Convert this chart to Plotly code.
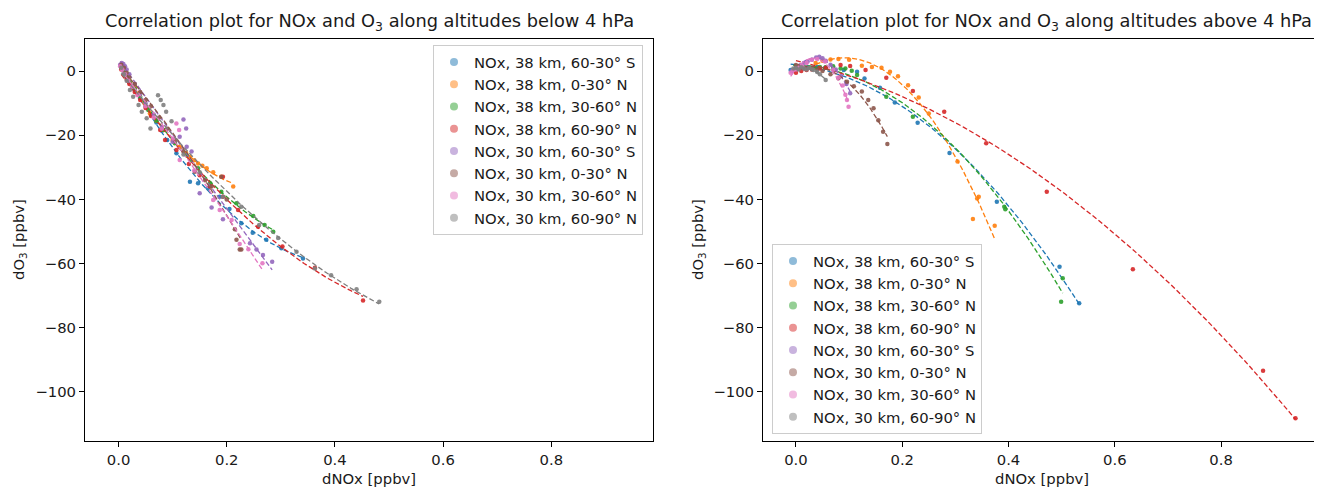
import numpy as np
import plotly.graph_objects as go

# ---------------- data ----------------
labels = ["NOx, 38 km, 60-30° S", "NOx, 38 km, 0-30° N", "NOx, 38 km, 30-60° N",
          "NOx, 38 km, 60-90° N", "NOx, 30 km, 60-30° S", "NOx, 30 km, 0-30° N",
          "NOx, 30 km, 30-60° N", "NOx, 30 km, 60-90° N"]
colors = ["#1f77b4", "#ff7f0e", "#2ca02c", "#d62728",
          "#9467bd", "#8c564b", "#e377c2", "#7f7f7f"]

# below 4 hPa (left panel)
lo_x_s1 = [0.005, 0.01, 0.015, 0.02, 0.03, 0.04, 0.05, 0.06, 0.07, 0.08, 0.09, 0.107, 0.132, 0.147, 0.165, 0.187, 0.205, 0.227, 0.248, 0.273, 0.301, 0.341]
lo_y_s1 = [1.0, -0.5, -2.0, -3.5, -6.0, -8.5, -11.0, -13.5, -16.0, -18.5, -21.5, -25.6, -34.5, -35.0, -36.5, -39.2, -43.0, -47.4, -50.4, -52.6, -55.2, -58.4]
lo_x_s2 = [0.005, 0.01, 0.015, 0.02, 0.03, 0.037, 0.048, 0.058, 0.07, 0.083, 0.1, 0.113, 0.125, 0.132, 0.14, 0.147, 0.155, 0.163, 0.175, 0.190, 0.212]
lo_y_s2 = [1.5, 0.0, -1.5, -3.0, -5.0, -6.9, -10.0, -13.2, -15.5, -18.4, -21.5, -23.6, -25.5, -26.7, -27.8, -28.8, -29.5, -30.3, -31.5, -32.9, -36.0]
lo_x_s3 = [0.005, 0.01, 0.015, 0.02, 0.03, 0.04, 0.055, 0.07, 0.083, 0.104, 0.126, 0.147, 0.169, 0.190, 0.218, 0.249, 0.270, 0.286]
lo_y_s3 = [1.2, -0.3, -1.8, -3.2, -5.5, -8.0, -12.1, -15.5, -18.4, -22.5, -26.2, -30.3, -35.0, -37.6, -41.2, -45.2, -48.0, -50.1]
lo_x_s4 = [0.005, 0.01, 0.015, 0.02, 0.03, 0.04, 0.05, 0.06, 0.077, 0.086, 0.107, 0.13, 0.15, 0.169, 0.193, 0.193, 0.221, 0.258, 0.303, 0.363, 0.452]
lo_y_s4 = [0.5, -1.0, -2.5, -4.0, -6.5, -9.0, -11.5, -14.0, -18.4, -21.5, -24.6, -29.0, -32.5, -36.0, -32.9, -39.2, -43.3, -48.5, -54.7, -61.3, -71.5]
lo_x_s5 = [0.003, 0.006, 0.009, 0.012, 0.015, 0.02, 0.03, 0.04, 0.05, 0.065, 0.08, 0.1, 0.113, 0.120, 0.125, 0.126, 0.135, 0.150, 0.172, 0.193, 0.243, 0.255, 0.267, 0.284]
lo_y_s5 = [2.0, 2.5, 2.2, 1.5, 0.5, -1.0, -4.0, -7.0, -10.0, -13.5, -17.5, -22.0, -20.5, -15.1, -17.9, -23.6, -25.1, -38.1, -42.5, -46.2, -53.7, -55.6, -57.3, -59.4]
lo_x_s6 = [0.005, 0.01, 0.015, 0.02, 0.03, 0.04, 0.05, 0.06, 0.075, 0.09, 0.105, 0.12, 0.141, 0.16, 0.172, 0.19, 0.2, 0.215, 0.218, 0.224, 0.227]
lo_y_s6 = [2.0, 1.0, -0.5, -2.0, -4.0, -6.5, -9.0, -11.0, -14.5, -18.0, -21.5, -25.0, -31.4, -34.0, -36.0, -32.9, -40.0, -49.3, -52.6, -55.6, -55.6]
lo_x_s7 = [0.003, 0.007, 0.012, 0.018, 0.025, 0.035, 0.05, 0.065, 0.08, 0.101, 0.107, 0.112, 0.113, 0.14, 0.175, 0.187, 0.209, 0.224, 0.24, 0.266]
lo_y_s7 = [1.5, 0.5, -1.0, -3.0, -5.0, -7.5, -11.0, -14.5, -18.0, -21.0, -16.3, -18.4, -27.7, -31.0, -40.2, -43.3, -46.4, -53.9, -55.5, -59.9]
lo_x_s8 = [0.005, 0.01, 0.015, 0.021, 0.027, 0.037, 0.043, 0.052, 0.059, 0.073, 0.078, 0.083, 0.088, 0.098, 0.12, 0.15, 0.193, 0.227, 0.26, 0.295, 0.329, 0.363, 0.393, 0.44, 0.482]
lo_y_s8 = [1.0, -1.0, -3.0, -5.9, -8.0, -10.6, -12.7, -14.7, -17.9, -7.5, -9.0, -10.6, -12.7, -15.6, -26.0, -31.5, -39.2, -42.3, -48.0, -52.0, -56.3, -61.5, -63.6, -68.0, -71.9]

# above 4 hPa (right panel)
hi_x_s1 = [-0.01, 0.0, 0.008, 0.015, 0.022, 0.03, 0.04, 0.055, 0.07, 0.09, 0.115, 0.129, 0.158, 0.186, 0.229, 0.289, 0.378, 0.496, 0.533]
hi_y_s1 = [0.3, 0.5, 1.0, 0.8, 1.2, 1.0, 1.3, 1.0, 0.8, 0.3, -0.2, -2.3, -5.2, -9.8, -16.1, -25.5, -40.7, -61.0, -72.4]
hi_x_s2 = [0.037, 0.05, 0.065, 0.08, 0.1, 0.124, 0.143, 0.161, 0.177, 0.192, 0.211, 0.231, 0.250, 0.304, 0.333, 0.341, 0.344, 0.374]
hi_y_s2 = [2.5, 3.2, 3.6, 3.8, 3.5, 1.7, 1.3, 1.0, -0.2, -1.6, -4.4, -8.2, -13.2, -28.2, -46.1, -39.7, -39.2, -48.2]
hi_x_s3 = [-0.005, 0.005, 0.015, 0.025, 0.035, 0.045, 0.056, 0.07, 0.084, 0.093, 0.105, 0.115, 0.170, 0.220, 0.392, 0.394, 0.499, 0.502]
hi_y_s3 = [0.3, 0.8, 1.0, 1.2, 1.0, 1.3, 1.2, 1.5, 0.8, 0.8, 0.1, -1.2, -8.0, -14.2, -42.3, -43.1, -71.9, -64.6]
hi_x_s4 = [0.0, 0.01, 0.02, 0.03, 0.045, 0.056, 0.084, 0.102, 0.131, 0.170, 0.220, 0.279, 0.358, 0.472, 0.634, 0.879, 0.940]
hi_y_s4 = [-0.5, 0.0, 0.3, 0.5, 0.8, 1.0, 1.9, 1.6, 0.3, -2.1, -6.2, -12.7, -22.5, -37.6, -61.8, -93.4, -108.2]
hi_x_s5 = [-0.008, 0.0, 0.008, 0.015, 0.022, 0.03, 0.038, 0.044, 0.05, 0.056, 0.065, 0.075, 0.085, 0.095, 0.102]
hi_y_s5 = [0.0, 1.0, 1.8, 2.5, 3.0, 3.5, 4.2, 4.5, 4.0, 3.2, 2.0, 0.5, -1.5, -4.0, -6.9]
hi_x_s6 = [0.0, 0.005, 0.012, 0.02, 0.03, 0.04, 0.05, 0.065, 0.08, 0.096, 0.109, 0.124, 0.136, 0.146, 0.155, 0.164, 0.172]
hi_y_s6 = [1.9, 1.5, 1.2, 1.0, 0.8, 0.5, 0.0, -1.0, -2.2, -3.3, -4.7, -6.4, -9.0, -11.6, -15.3, -18.9, -22.7]
hi_x_s7 = [-0.01, -0.005, 0.0, 0.005, 0.012, 0.02, 0.03, 0.04, 0.055, 0.07, 0.08, 0.088, 0.093, 0.096, 0.099]
hi_y_s7 = [-0.5, 0.3, 0.5, 1.0, 1.5, 2.5, 3.5, 3.8, 3.0, 0.5, -2.0, -4.5, -7.4, -9.0, -11.1]
hi_x_s8 = [-0.005, 0.0, 0.005, 0.01, 0.015, 0.02, 0.025, 0.03, 0.033, 0.04, 0.045, 0.056]
hi_y_s8 = [0.8, 1.0, 0.5, 1.2, 0.8, 0.5, 1.0, 0.6, 0.3, -0.3, -1.0, -2.8]

lo_x = [lo_x_s1, lo_x_s2, lo_x_s3, lo_x_s4, lo_x_s5, lo_x_s6, lo_x_s7, lo_x_s8]
lo_y = [lo_y_s1, lo_y_s2, lo_y_s3, lo_y_s4, lo_y_s5, lo_y_s6, lo_y_s7, lo_y_s8]
hi_x = [hi_x_s1, hi_x_s2, hi_x_s3, hi_x_s4, hi_x_s5, hi_x_s6, hi_x_s7, hi_x_s8]
hi_y = [hi_y_s1, hi_y_s2, hi_y_s3, hi_y_s4, hi_y_s5, hi_y_s6, hi_y_s7, hi_y_s8]

x_ticks = [0.0, 0.2, 0.4, 0.6, 0.8]
y_ticks = [0, -20, -40, -60, -80, -100]

# ---------------- figure ----------------
OFF = 8                      # page body margin
W, H = 1322 - OFF, 487 - OFF
FONT = "DejaVu Sans"
TXT = "#1a1a1a"
FS = 14.8
fig = go.Figure()


def add_panel(xs, ys, xa, ya, leg):
    for i in range(len(labels)):
        x = np.array(xs[i]); y = np.array(ys[i])
        fig.add_trace(go.Scatter(x=[None], y=[None], mode="markers", name=labels[i],
                                 marker=dict(size=8, color=colors[i], opacity=0.5),
                                 xaxis=xa, yaxis=ya, legend=leg, showlegend=True,
                                 legendgroup=leg + str(i)))
        fig.add_trace(go.Scatter(x=x, y=y, mode="markers", showlegend=False,
                                 marker=dict(size=4.5, color=colors[i], opacity=0.9),
                                 xaxis=xa, yaxis=ya, hoverinfo="skip"))
        coef = np.polyfit(x, y, 2)
        xf = np.linspace(x.min(), x.max(), 120)
        fig.add_trace(go.Scatter(x=xf, y=np.polyval(coef, xf), mode="lines", showlegend=False,
                                 line=dict(color=colors[i], width=1.3, dash="5px,2.5px"),
                                 xaxis=xa, yaxis=ya, hoverinfo="skip"))


add_panel(lo_x, lo_y, "x", "y", "legend")
add_panel(hi_x, hi_y, "x2", "y2", "legend2")


def px(v):
    return (v - OFF) / W


def py(v):
    return (H - (v - OFF)) / H


xr = [-0.062, 0.988]
yr = [-115.3, 10]
ax_common = dict(showline=True, linecolor="black", linewidth=1, mirror=True,
                 ticks="outside", ticklen=5, tickwidth=1, tickcolor="black",
                 showgrid=False, zeroline=False, automargin=False,
                 tickfont=dict(family=FONT, size=FS, color=TXT))
yd = [py(441), py(39)]
leg_common = dict(bgcolor="rgba(255,255,255,0.8)", bordercolor="#cccccc", borderwidth=1,
                  font=dict(family=FONT, size=FS, color=TXT), tracegroupgap=0)
fig.update_layout(
    width=W, height=H, margin=dict(l=0, r=0, t=0, b=0),
    plot_bgcolor="white", paper_bgcolor="white",
    font=dict(family=FONT, size=FS, color=TXT),
    xaxis=dict(domain=[px(85), px(653)], range=xr, tickvals=x_ticks, tickformat=".1f",
               anchor="y", **ax_common),
    yaxis=dict(domain=yd, range=yr, tickvals=y_ticks, anchor="x", **ax_common),
    xaxis2=dict(domain=[px(763), px(1321)], range=xr, tickvals=x_ticks, tickformat=".1f",
                anchor="y2", **ax_common),
    yaxis2=dict(domain=yd, range=yr, tickvals=y_ticks, anchor="x2", **ax_common),
    legend=dict(x=px(643), xanchor="right", y=py(45), yanchor="top", **leg_common),
    legend2=dict(x=px(772), xanchor="left", y=py(434), yanchor="bottom", **leg_common),
)

ann = []
titles = ["Correlation plot for NOx and O<sub>3</sub> along altitudes below 4 hPa",
          "Correlation plot for NOx and O<sub>3</sub> along altitudes above 4 hPa"]
for cx, t in [((85 + 653) / 2, titles[0]), (1046, titles[1])]:
    ann.append(dict(text=t, x=px(cx), y=py(22), xref="paper", yref="paper",
                    xanchor="center", yanchor="middle", showarrow=False,
                    font=dict(family=FONT, size=17.8, color=TXT)))
for cx in [(85 + 653) / 2, (763 + 1321) / 2]:
    ann.append(dict(text="dNOx [ppbv]", x=px(cx), y=py(478), xref="paper", yref="paper",
                    xanchor="center", yanchor="middle", showarrow=False,
                    font=dict(family=FONT, size=FS, color=TXT)))
for lx in [19, 698]:
    ann.append(dict(text="dO<sub>3</sub> [ppbv]", x=px(lx), y=py(240), xref="paper", yref="paper",
                    xanchor="center", yanchor="middle", showarrow=False, textangle=-90,
                    font=dict(family=FONT, size=FS, color=TXT)))
fig.update_layout(annotations=ann)

fig.write_html("out.html")
